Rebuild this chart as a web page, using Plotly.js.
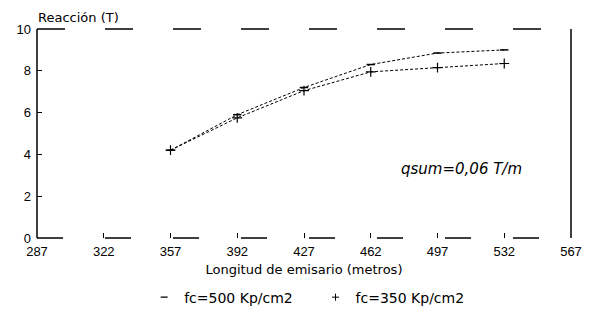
<!DOCTYPE html>
<html>
<head>
<meta charset="utf-8">
<script src="https://cdn.plot.ly/plotly-3.0.1.min.js"></script>
<style>
html,body{margin:0;padding:0;background:#fff;}
#chart{width:595px;height:326px;}
</style>
</head>
<body>
<div id="chart"></div>
<script>
const longitudes = [357, 392, 427, 462, 497, 532];
const fc500 = [4.2, 5.9, 7.2, 8.3, 8.85, 9.0];
const fc350 = [4.2, 5.75, 7.05, 7.95, 8.15, 8.35];
const xTicks = [287, 322, 357, 392, 427, 462, 497, 532, 567];
const yTicks = [0, 2, 4, 6, 8, 10];
const seriesNames = ['fc=500 Kp/cm2', 'fc=350 Kp/cm2'];

const ink = '#000';
const sans = 'DejaVu Sans, Liberation Sans, Arial, sans-serif';
const tickFont = {family: 'Liberation Sans, Arial, sans-serif', size: 13, color: ink};
const pad = '\u00a0\u00a0\u00a0\u00a0';

const traces = [
  {x: longitudes, y: fc500, mode: 'lines+markers', showlegend: false,
   line: {color: ink, width: 1, dash: '3px,2px'},
   marker: {symbol: 'line-ew', size: 6, color: ink, line: {color: ink, width: 1.5}}},
  {x: longitudes, y: fc350, mode: 'lines+markers', showlegend: false,
   line: {color: ink, width: 1, dash: '3px,2px'},
   marker: {symbol: 'cross-thin', size: 7, color: ink, line: {color: ink, width: 1.2}}},
  {x: [null], y: [null], mode: 'markers', name: seriesNames[0] + pad,
   marker: {symbol: 'line-ew', size: 5, color: ink, line: {color: ink, width: 1.2}}},
  {x: [null], y: [null], mode: 'markers', name: seriesNames[1],
   marker: {symbol: 'cross-thin', size: 5, color: ink, line: {color: ink, width: 1}}}
];

const frameLine = {color: ink, width: 1.5};
const layout = {
  width: 595, height: 326,
  margin: {l: 37, r: 24, t: 29, b: 86},
  paper_bgcolor: '#fff', plot_bgcolor: '#fff',
  font: {family: sans, size: 13, color: ink},
  showlegend: true,
  legend: {orientation: 'h', x: 0.505, xanchor: 'center', y: -0.285, yanchor: 'middle',
           font: {family: sans, size: 14, color: ink},
           itemwidth: 30, tracegroupgap: 0},
  xaxis: {range: [287, 567], tickvals: xTicks, ticktext: xTicks.map(String),
          showgrid: false, zeroline: false, showline: false,
          ticks: 'inside', ticklen: 5, tickcolor: ink, ticklabelstandoff: 4,
          tickfont: tickFont,
          title: {text: 'Longitud de emisario (metros)', standoff: 6,
                  font: {family: sans, size: 13, color: ink}}},
  yaxis: {range: [0, 10], tickvals: yTicks, ticktext: yTicks.map(String),
          showgrid: false, zeroline: false, showline: false,
          ticks: 'inside', ticklen: 5, tickcolor: ink, ticklabelstandoff: 5,
          tickfont: tickFont},
  shapes: [
    {type: 'line', xref: 'paper', yref: 'paper', x0: 0, x1: 0, y0: 0, y1: 1, line: frameLine},
    {type: 'line', xref: 'paper', yref: 'paper', x0: 1, x1: 1, y0: 0, y1: 1, line: frameLine},
    {type: 'line', xref: 'paper', yref: 'paper', x0: 0, x1: 1, y0: 1, y1: 1,
     line: {color: ink, width: 1.5, dash: '28px,40px'}},
    {type: 'line', xref: 'paper', yref: 'paper', x0: 0, x1: 1, y0: 0, y1: 0,
     line: {color: ink, width: 1.5, dash: '26px,42px'}}
  ],
  annotations: [
    {text: 'Reacción (T)', xref: 'paper', yref: 'paper', x: -0.002, y: 1.01, xanchor: 'left', yanchor: 'bottom',
     showarrow: false, font: {family: sans, size: 13, color: ink}},
    {text: '<i>qsum=0,06 T/m</i>', xref: 'x', yref: 'y', x: 509.5, y: 3.3, xanchor: 'center', yanchor: 'middle',
     showarrow: false, font: {family: sans, size: 15, color: ink}}
  ]
};

Plotly.newPlot('chart', traces, layout, {displayModeBar: false, staticPlot: true});
</script>
</body>
</html>
